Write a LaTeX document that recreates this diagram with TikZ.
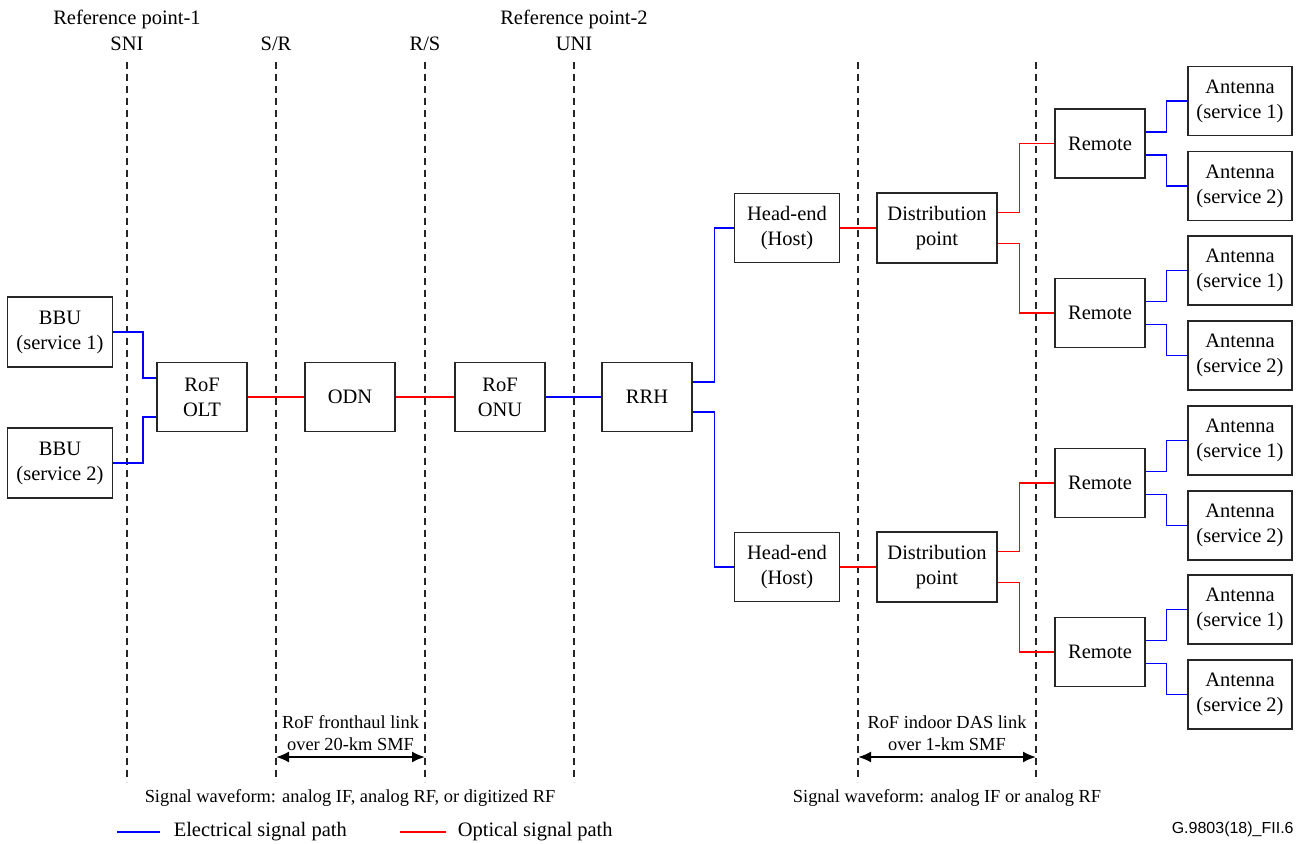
\documentclass[tikz,border=0pt]{standalone}
\usepackage{fontspec}
\setmainfont{Liberation Serif}
\newfontfamily\figsans{Liberation Sans}
\usetikzlibrary{arrows.meta}

\tikzset{
  box/.style={draw=black!85, line width=0.7pt, inner sep=0pt, align=center,
    font=\fontsize{10.25}{12.5}\selectfont},
  unit/.style={box, minimum width=45pt, minimum height=34.5pt},
  wide/.style={box, minimum width=52.5pt, minimum height=35pt},
  elec/.style={blue, line width=0.75pt},
  opt/.style={red, line width=0.75pt},
  refline/.style={dash pattern=on 3.5pt off 2.5pt, line width=0.6pt, black!85},
  lbl/.style={font=\fontsize{10.25}{12.5}\selectfont, inner sep=0pt, text=black},
  note/.style={font=\fontsize{9.2}{11}\selectfont, inner sep=0pt, align=center}
}

\begin{document}
\begin{tikzpicture}[>={Latex[length=6.5pt,width=5.5pt]}, x=0.5pt, y=-0.5pt]
    \useasboundingbox (0,0) rectangle (1299,844);
    \foreach \x/\n in {127/sni,276/sr,425/rs,574/uni,858/dasa,1036/dasb}
      {
        \draw[refline] (\x,62) -- (\x,782);
        \coordinate (\n) at (\x,757);
      }
    \node[lbl, anchor=base] (refa) at (127,25) {Reference point-1};
    \node[lbl, anchor=base] (snilbl) at (127,51) {SNI};
    \node[lbl, anchor=base] (srlbl) at (276,51) {S/R};
    \node[lbl, anchor=base] (rslbl) at (425,51) {R/S};
    \node[lbl, anchor=base] (refb) at (574,25) {Reference point-2};
    \node[lbl, anchor=base] (unilbl) at (574,51) {UNI};

    \node[wide] (bbu1) at (60,332) {BBU\\(service 1)};
    \node[wide] (bbu2) at (60,463) {BBU\\(service 2)};
    \node[unit] (olt) at (202,397) {RoF\\OLT};
    \node[unit] (odn) at (350,397) {ODN};
    \node[unit] (onu) at (500,397) {RoF\\ONU};
    \node[unit] (rrh) at (647,397) {RRH};

    \draw[elec] (bbu1.east) -- ++(30,0) |- ([yshift=9.5pt]olt.west);
    \draw[elec] (bbu2.east) -- ++(30,0) |- ([yshift=-10pt]olt.west);
    \draw[opt] (olt) -- (odn);
    \draw[opt] (odn) -- (onu);
    \draw[elec] (onu) -- (rrh);

    \foreach \h/\y in {1/228,2/567}
      {
        \node[wide, minimum height=34.5pt] (head\h) at (787,\y) {Head-end\\(Host)};
        \node[wide, minimum width=60pt] (dist\h) at (937,\y) {Distribution\\point};
        \draw[opt] (head\h) -- (dist\h);
      }
    \draw[elec] ([yshift=7.5pt]rrh.east) -- ++(22,0) |- (head1.west);
    \draw[elec] ([yshift=-7.5pt]rrh.east) -- ++(22,0) |- (head2.west);

    \foreach \r/\y in {1/143.5,2/313,3/483,4/652}
      {
        \node[unit] (rem\r) at (1100,\y) {Remote};
        \node[unit, minimum width=52pt] (ant\r-1) at (1240,\y-42.5) {Antenna\\(service 1)};
        \node[unit, minimum width=52pt] (ant\r-2) at (1240,\y+42.5) {Antenna\\(service 2)};
        \draw[elec] ([yshift=5.75pt]rem\r.east) -- ++(21,0) |- (ant\r-1.west);
        \draw[elec] ([yshift=-5.75pt]rem\r.east) -- ++(21,0) |- (ant\r-2.west);
      }
    \foreach \h/\ra/\rb in {1/1/2,2/3/4}
      {
        \draw[opt] ([yshift=7.75pt]dist\h.east) -- ++(22,0) |- (rem\ra.west);
        \draw[opt] ([yshift=-7.75pt]dist\h.east) -- ++(22,0) |- (rem\rb.west);
      }

    \draw[<->, line width=1pt] (sr) -- (rs)
      node[note, midway, above=2.5pt] (fhlink) {RoF fronthaul link\\over 20-km SMF};
    \draw[<->, line width=1pt] (dasa) -- (dasb)
      node[note, midway, above=2.5pt] (daslink) {RoF indoor DAS link\\over 1-km SMF};
    \node[note] (wavea) at (350,798) {Signal waveform: analog IF, analog RF, or digitized RF};
    \node[note] (waveb) at (947,798) {Signal waveform: analog IF or analog RF};

    \coordinate (elegend) at (117,832);
    \coordinate (olegend) at (400,832);
    \draw[elec] (elegend) -- ++(43,0)
      node[lbl, right=6.5pt] (eleclbl) {Electrical signal path};
    \draw[opt] (olegend) -- ++(46,0)
      node[lbl, right=5.5pt] (optlbl) {Optical signal path};
    \node[font=\figsans\fontsize{8}{10}\selectfont, anchor=base east, inner sep=0pt]
      (figid) at (1294,833) {G.9803(18)\_FII.6};
\end{tikzpicture}
\end{document}
